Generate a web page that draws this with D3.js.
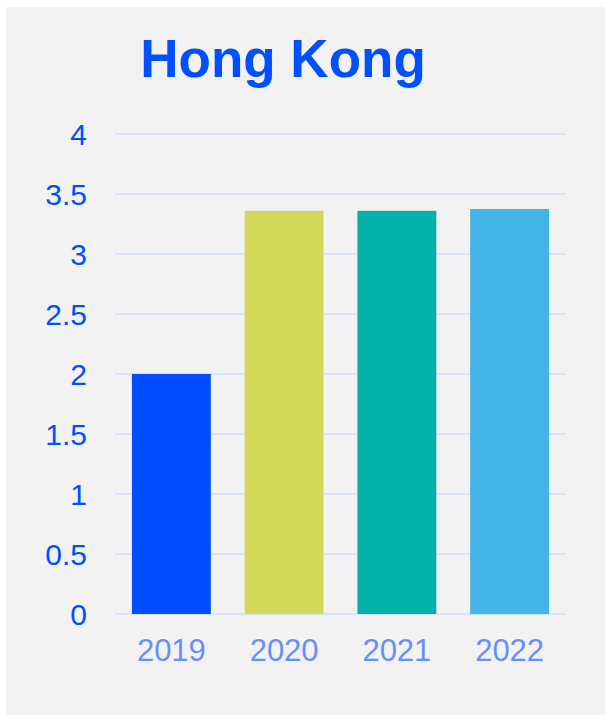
<!DOCTYPE html>
<html><head><meta charset="utf-8">
<script src="https://cdn.jsdelivr.net/npm/d3@7"></script>
<style>html,body{margin:0;padding:0;background:#fff;}</style>
</head><body>
<svg id="c" width="605" height="715"></svg>
<script>
const categories = ["2019", "2020", "2021", "2022"];
const values = [2.0, 3.36, 3.36, 3.375];
const barColors = ["#004cff", "#d4d858", "#02b2aa", "#42b4e6"];
const yTicks = [0, 0.5, 1, 1.5, 2, 2.5, 3, 3.5, 4];
const title = "Hong Kong";

const svg = d3.select("#c");
svg.append("rect").attr("x", 6).attr("y", 7).attr("width", 599).attr("height", 708).attr("fill", "#f2f2f2");

const x = d3.scaleBand().domain(categories).range([115, 566]).paddingInner(0.3).paddingOuter(0.15);
const y = d3.scaleLinear().domain([0, 4]).range([614, 134]);

// gridlines
svg.append("g").selectAll("line").data(yTicks).join("line")
  .attr("x1", 115).attr("x2", 566)
  .attr("y1", d => y(d)).attr("y2", d => y(d))
  .attr("stroke", "#d9e3fb").attr("stroke-width", 2);

// bars
svg.append("g").selectAll("rect").data(categories).join("rect")
  .attr("x", d => x(d)).attr("width", x.bandwidth())
  .attr("y", (d, i) => y(values[i])).attr("height", (d, i) => y(0) - y(values[i]))
  .attr("fill", (d, i) => barColors[i]);

// y axis
const yAxis = svg.append("g").attr("transform", "translate(115,0)")
  .call(d3.axisLeft(y).tickValues(yTicks).tickFormat(d3.format("~g")).tickSize(0).tickPadding(28));
yAxis.select(".domain").remove();
yAxis.selectAll("text").attr("fill", "#0050ff").attr("font-family", "Liberation Sans, Arial, sans-serif")
  .attr("font-size", 30).attr("dy", "0.36em");

// x axis
const xAxis = svg.append("g").attr("transform", "translate(0,614)")
  .call(d3.axisBottom(x).tickSize(0).tickPadding(25));
xAxis.select(".domain").remove();
xAxis.selectAll("text").attr("fill", "#6690ff").attr("font-family", "Liberation Sans, Arial, sans-serif")
  .attr("font-size", 31).attr("dy", "0.72em");

// title
svg.append("text").attr("x", 283).attr("y", 77).attr("text-anchor", "middle")
  .attr("fill", "#0050ff").attr("font-family", "Liberation Sans, Arial, sans-serif")
  .attr("font-weight", "bold").attr("font-size", 53)
  .text(title);
</script>
</body></html>
